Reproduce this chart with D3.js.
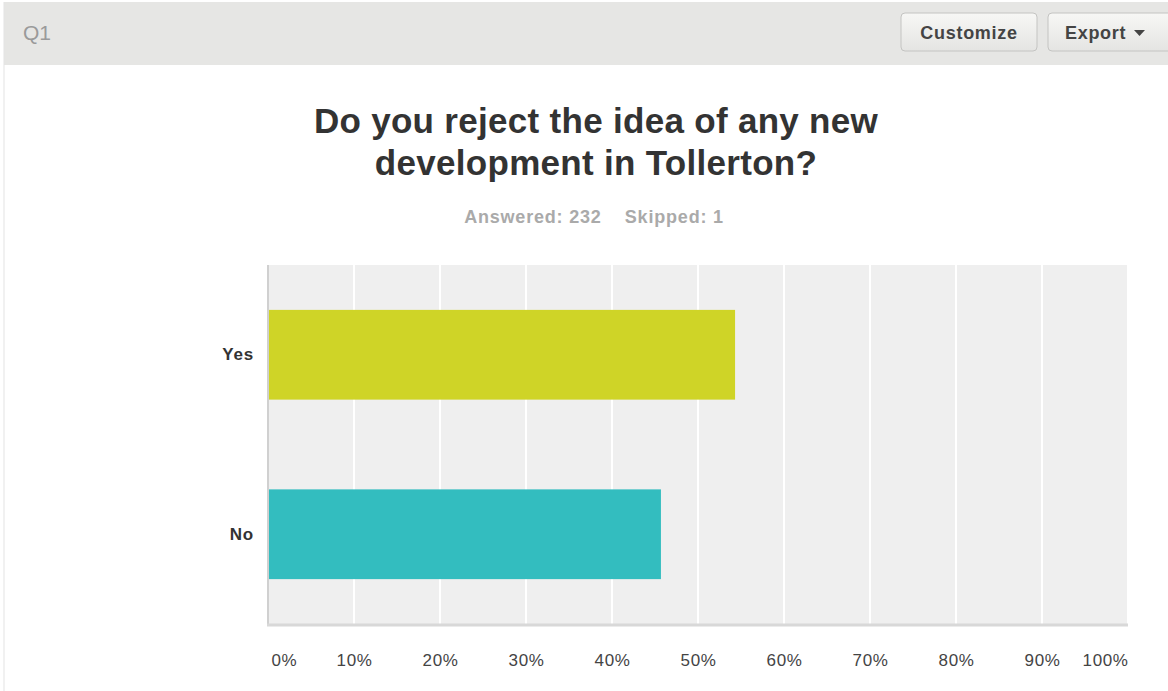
<!DOCTYPE html>
<html>
<head>
<meta charset="utf-8">
<script src="https://cdn.jsdelivr.net/npm/d3@7"></script>
<style>
  body { margin: 0; background: #fff; font-family: "Liberation Sans", Arial, sans-serif; }
</style>
</head>
<body>
<div id="chart"></div>
<script>
const answers = ["Yes", "No"];
const percents = [54.31, 45.69];
const colors = ["#cfd427", "#33bdbf"];
const tickValues = [0, 10, 20, 30, 40, 50, 60, 70, 80, 90, 100];
const titleLines = ["Do you reject the idea of any new", "development in Tollerton?"];
const answered = 232;
const skipped = 1;

const width = 1168;
const height = 691;
const margin = { top: 265, right: 40, bottom: 67, left: 268 };

const svg = d3.select("#chart")
  .append("svg")
  .attr("width", width)
  .attr("height", height);

// header band
svg.append("rect")
  .attr("x", 4).attr("y", 2)
  .attr("width", width - 4).attr("height", 63)
  .attr("fill", "#e6e6e4");
svg.append("line")
  .attr("x1", 4).attr("x2", 4).attr("y1", 2).attr("y2", height)
  .attr("stroke", "#e3e3e3").attr("stroke-width", 1);

svg.append("text")
  .attr("x", 23).attr("y", 40)
  .attr("font-size", 21)
  .attr("fill", "#9a9a9a")
  .text("Q1");

const defs = svg.append("defs");
const grad = defs.append("linearGradient")
  .attr("id", "btn").attr("x1", 0).attr("x2", 0).attr("y1", 0).attr("y2", 1);
grad.append("stop").attr("offset", "0%").attr("stop-color", "#f7f7f5");
grad.append("stop").attr("offset", "100%").attr("stop-color", "#e4e4e2");

const buttons = [
  { label: "Customize", x: 901, w: 136 },
  { label: "Export", x: 1048, w: 130 }
];
const btn = svg.selectAll(".btn")
  .data(buttons)
  .enter()
  .append("g")
  .attr("class", "btn")
  .attr("transform", d => `translate(${d.x}, 13)`);
btn.append("rect")
  .attr("width", d => d.w).attr("height", 38)
  .attr("rx", 4)
  .attr("fill", "url(#btn)")
  .attr("stroke", "#c4c4c2");
btn.append("text")
  .attr("x", d => d.label === "Export" ? 17 : 68)
  .attr("y", 26)
  .attr("text-anchor", d => d.label === "Export" ? "start" : "middle")
  .attr("font-size", 18)
  .attr("font-weight", "bold")
  .attr("letter-spacing", 0.7)
  .attr("fill", "#444")
  .text(d => d.label);
svg.append("path")
  .attr("d", "M1134,30 l11,0 l-5.5,6 z")
  .attr("fill", "#444");

// title
svg.append("text")
  .attr("x", 596)
  .attr("text-anchor", "middle")
  .attr("font-size", 35)
  .attr("font-weight", "bold")
  .attr("letter-spacing", 0.3)
  .attr("fill", "#333")
  .selectAll("tspan")
  .data(titleLines)
  .enter()
  .append("tspan")
  .attr("x", 596)
  .attr("y", (d, i) => 133 + i * 42)
  .text(d => d);

svg.append("text")
  .attr("x", 594).attr("y", 223)
  .attr("text-anchor", "middle")
  .attr("font-size", 18)
  .attr("font-weight", "bold")
  .attr("letter-spacing", 0.8)
  .attr("fill", "#aaa")
  .attr("xml:space", "preserve")
  .text(`Answered: ${answered}    Skipped: ${skipped}`);

// chart
const x = d3.scaleLinear()
  .domain([0, 100])
  .range([margin.left, width - margin.right]);

const y = d3.scaleBand()
  .domain(answers)
  .range([margin.top, height - margin.bottom])
  .paddingInner(0.5)
  .paddingOuter(0.25);

const g = svg.append("g");

g.append("rect")
  .attr("x", x(0)).attr("y", margin.top)
  .attr("width", x(100) - x(0))
  .attr("height", height - margin.bottom - margin.top)
  .attr("fill", "#efefef");

g.selectAll(".grid")
  .data(tickValues.slice(1))
  .enter()
  .append("line")
  .attr("class", "grid")
  .attr("x1", d => x(d)).attr("x2", d => x(d))
  .attr("y1", margin.top).attr("y2", height - margin.bottom)
  .attr("stroke", "#fff")
  .attr("stroke-width", 2);

g.selectAll(".bar")
  .data(answers)
  .enter()
  .append("rect")
  .attr("class", "bar")
  .attr("x", x(0))
  .attr("y", d => y(d))
  .attr("width", (d, i) => x(percents[i]) - x(0))
  .attr("height", y.bandwidth())
  .attr("fill", (d, i) => colors[i]);

// left axis line
g.append("line")
  .attr("x1", x(0)).attr("x2", x(0))
  .attr("y1", margin.top).attr("y2", height - margin.bottom)
  .attr("stroke", "#d0d0d0").attr("stroke-width", 2);

// bottom axis line
g.append("line")
  .attr("x1", x(0) - 1).attr("x2", x(100))
  .attr("y1", height - margin.bottom + 1).attr("y2", height - margin.bottom + 1)
  .attr("stroke", "#d8d8d8").attr("stroke-width", 3);

const yAxis = g.append("g")
  .attr("transform", `translate(${x(0) - 14}, 0)`)
  .call(d3.axisLeft(y).tickSize(0).tickPadding(0));
yAxis.select(".domain").remove();
yAxis.selectAll("text")
  .attr("font-size", 17)
  .attr("font-weight", "bold")
  .attr("letter-spacing", 0.8)
  .attr("font-family", "Liberation Sans, Arial, sans-serif")
  .attr("fill", "#333");

const xAxis = g.append("g")
  .attr("transform", `translate(0, ${height - margin.bottom + 27})`)
  .call(d3.axisBottom(x).tickValues(tickValues).tickSize(0).tickFormat(d => d + "%"));
xAxis.select(".domain").remove();
xAxis.selectAll("text")
  .attr("font-size", 17)
  .attr("letter-spacing", 0.6)
  .attr("font-family", "Liberation Sans, Arial, sans-serif")
  .attr("fill", "#444")
  .attr("text-anchor", d => d === 0 ? "start" : d === 100 ? "end" : "middle")
  .attr("dx", d => d === 0 ? 3 : 0);
</script>
</body>
</html>
